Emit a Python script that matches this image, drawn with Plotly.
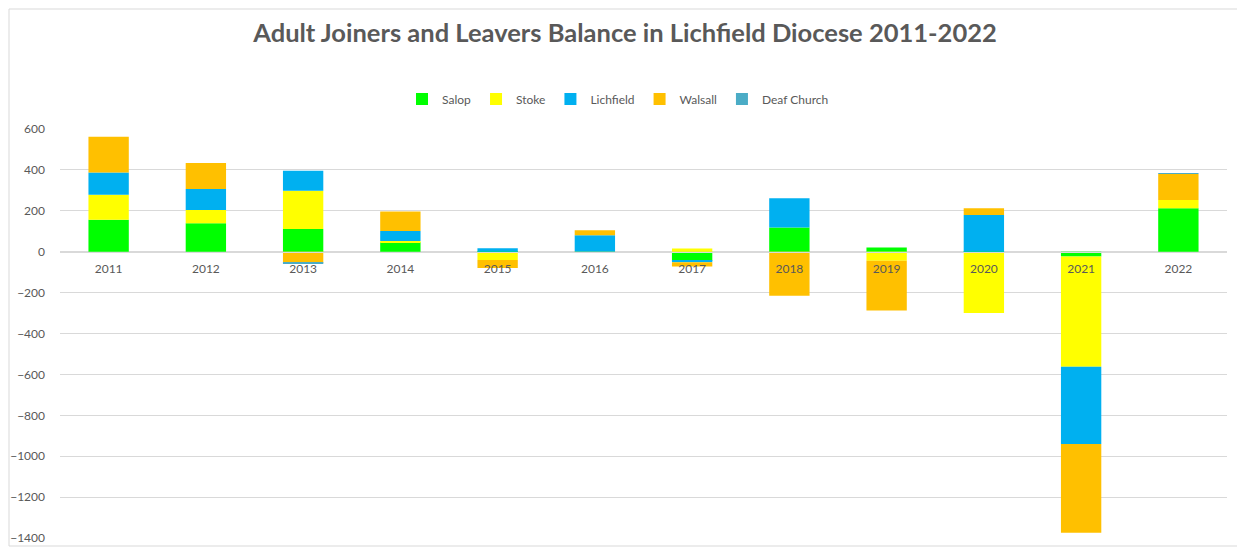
import plotly.graph_objects as go

years = ["2011", "2012", "2013", "2014", "2015", "2016", "2017", "2018", "2019", "2020", "2021", "2022"]
salop = [156, 139, 111, 46, -6, 0, -44, 118, 20, -6, -24, 212]
stoke = [123, 65, 187, 6, -34, -3, 16, 0, -44, -294, -538, 41]
lichfield = [108, 103, 98, 49, 17, 81, -8, 143, 0, 180, -378, 0]
walsall = [175, 127, -54, 95, -40, 24, -20, -215, -244, 32, -434, 127]
deaf_church = [0, 0, -2, 0, 0, 0, 0, 0, 0, 0, 0, 4]

series = [
    ("Salop", salop, "#00FF00"),
    ("Stoke", stoke, "#FFFF00"),
    ("Lichfield", lichfield, "#00B0F0"),
    ("Walsall", walsall, "#FFC000"),
    ("Deaf Church", deaf_church, "#4BACC6"),
]

fig = go.Figure()
for name, vals, col in series:
    fig.add_trace(go.Bar(x=years, y=vals, name=name, marker=dict(color=col, line=dict(width=0))))

OFF = 8  # page body margin in the browser
W, H = 1245 - OFF, 547 - OFF
# plot area in screen pixels: x 60..1227, y 129..538
ml, mt = 60 - OFF, 129 - OFF
mr = W - (1227 - OFF)
mb = H - (538 - OFF)
pw = W - ml - mr
ph = H - mt - mb
ymin, ymax = -1400, 600

fig.update_layout(
    width=W, height=H,
    barmode="relative",
    bargap=0.585,
    plot_bgcolor="white",
    paper_bgcolor="white",
    margin=dict(l=ml, r=mr, t=mt, b=mb, autoexpand=False),
    font=dict(family="Lato, Calibri, sans-serif", color="#595959", size=12),
    title=dict(
        text="<b>Adult Joiners and Leavers Balance in Lichfield Diocese 2011-2022</b>",
        x=(625 - OFF - ml) / pw, xref="paper", xanchor="center",
        y=1 - (33 - OFF) / H, yanchor="middle",
        font=dict(size=25.5, color="#595959", family="Lato, Calibri, sans-serif"),
    ),
    legend=dict(
        orientation="h", x=(618 - OFF - ml) / pw, xanchor="center",
        y=1 + (mt - (99 - OFF)) / ph, yanchor="middle",
        font=dict(size=12, color="#595959"), itemwidth=30, traceorder="normal",
    ),
    showlegend=True,
)

fig.update_yaxes(
    range=[ymin, ymax], dtick=200, tick0=0,
    showgrid=True, gridcolor="#D9D9D9", gridwidth=1,
    zeroline=False, showline=False, ticks="",
    ticklabelstandoff=14,
    tickfont=dict(size=12, color="#595959"),
)
fig.update_xaxes(
    anchor="free", position=(0 - ymin) / (ymax - ymin),
    showline=True, linecolor="#D9D9D9", linewidth=1,
    showgrid=False, ticks="",
    ticklabelstandoff=6,
    tickfont=dict(size=12, color="#595959"),
)

fig.add_shape(type="rect", xref="paper", yref="paper",
              x0=-(ml - 1) / pw, x1=1 + (mr - 1) / pw,
              y0=-(mb - 1) / ph, y1=1 + (mt - 1) / ph,
              line=dict(color="#D9D9D9", width=1), layer="below")

fig.write_html("out.html")
